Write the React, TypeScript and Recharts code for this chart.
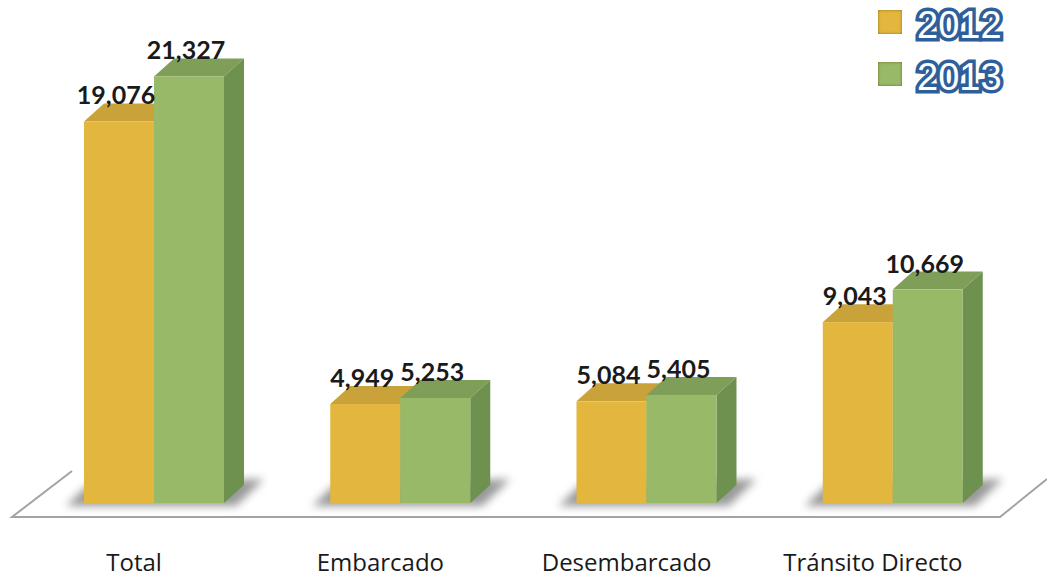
import { BarChart, Bar, XAxis, YAxis, Legend, LabelList, Customized } from "recharts"

const categories = ["Total", "Embarcado", "Desembarcado", "Tránsito Directo"]
const values2012 = [19076, 4949, 5084, 9043]
const values2013 = [21327, 5253, 5405, 10669]

const chartData = categories.map((name, i) => ({
  name,
  y2012: values2012[i],
  y2013: values2013[i],
}))

const DEPTH_X = 20
const DEPTH_Y = 18

// front face plus top and side faces, so the bars look like the 3D original
function Bar3D({ x, y, width, height, fill, topFill, sideFill, shadow }: any) {
  const r = x + width
  const b = y + height
  return (
    <g>
      {shadow && (
        <path
          d={`M${x - 18} ${b + 3} L${x + 4} ${b - 18} L${x + 2 * width + 40} ${b - 24} L${x + 2 * width + 12} ${b + 3} Z`}
          fill="#999999"
          style={{ filter: "blur(4px)" }}
        />
      )}
      <path d={`M${x} ${y} L${x + DEPTH_X} ${y - DEPTH_Y} L${r + DEPTH_X} ${y - DEPTH_Y} L${r} ${y} Z`} fill={topFill} />
      <path d={`M${r} ${y} L${r + DEPTH_X} ${y - DEPTH_Y} L${r + DEPTH_X} ${b - DEPTH_Y} L${r} ${b} Z`} fill={sideFill} />
      <rect x={x} y={y} width={width} height={height} fill={fill} />
    </g>
  )
}

function CategoryTick({ x, payload }: any) {
  return (
    <text x={x - 20} y={571} textAnchor="middle" fontFamily="Open Sans" fontSize={24} fill="#1a1a1a">
      {payload.value}
    </text>
  )
}

function Floor() {
  return (
    <polyline
      points="72,471 12,517 1000,517 1047,479"
      fill="none"
      stroke="#a3a3a3"
      strokeWidth={2}
    />
  )
}

function YearLegend({ payload }: any) {
  return (
    <div>
      {(payload || []).map((item: any) => (
        <div key={item.value} style={{ display: "flex", alignItems: "center", height: 52 }}>
          <span
            style={{
              width: 24,
              height: 24,
              marginRight: 15,
              background: item.color,
              boxShadow: "inset 0 0 3px rgba(90,70,0,0.6)",
            }}
          />
          <span
            style={{
              position: "relative",
              top: 3,
              fontFamily: "Liberation Sans",
              fontWeight: 400,
              fontSize: 38,
              lineHeight: "32px",
              color: "#ffffff",
              WebkitTextStroke: "7px #2f5f9a",
              paintOrder: "stroke fill",
            }}
          >
            {item.value}
          </span>
        </div>
      ))}
    </div>
  )
}

const formatValue = (value: number) => value.toLocaleString("en-US")

const labelStyle = { fontFamily: "Lato", fontWeight: 700, fontSize: 25, fill: "#1a1a1a" }

export default function App() {
  return (
    <div style={{ position: "absolute", left: 0, top: 0, width: 1047, height: 579, background: "#ffffff" }}>
      <BarChart
        width={1047}
        height={579}
        data={chartData}
        margin={{ top: 3, right: 31, left: 31, bottom: 0 }}
        barGap={0}
        barCategoryGap={53}
      >
        <Customized component={Floor} />
        <XAxis
          dataKey="name"
          axisLine={false}
          tickLine={false}
          interval={0}
          tick={<CategoryTick />}
          height={76}
        />
        <YAxis hide domain={[0, 25000]} />
        <Legend
          verticalAlign="middle"
          align="center"
          layout="horizontal"
          content={<YearLegend />}
          wrapperStyle={{ position: "absolute", left: 878, top: -4, width: 140 }}
        />
        <Bar
          dataKey="y2012"
          name="2012"
          fill="#e3b63d"
          isAnimationActive={false}
          shape={(props: any) => <Bar3D {...props} topFill="#c9a33a" sideFill="#b8942f" shadow />}
        >
          <LabelList dataKey="y2012" position="top" offset={17} dx={-3} formatter={formatValue} style={labelStyle} />
        </Bar>
        <Bar
          dataKey="y2013"
          name="2013"
          fill="#97b968"
          isAnimationActive={false}
          shape={(props: any) => <Bar3D {...props} topFill="#7f9f59" sideFill="#6e9150" />}
        >
          <LabelList dataKey="y2013" position="top" offset={17} dx={-3} formatter={formatValue} style={labelStyle} />
        </Bar>
      </BarChart>
    </div>
  )
}
